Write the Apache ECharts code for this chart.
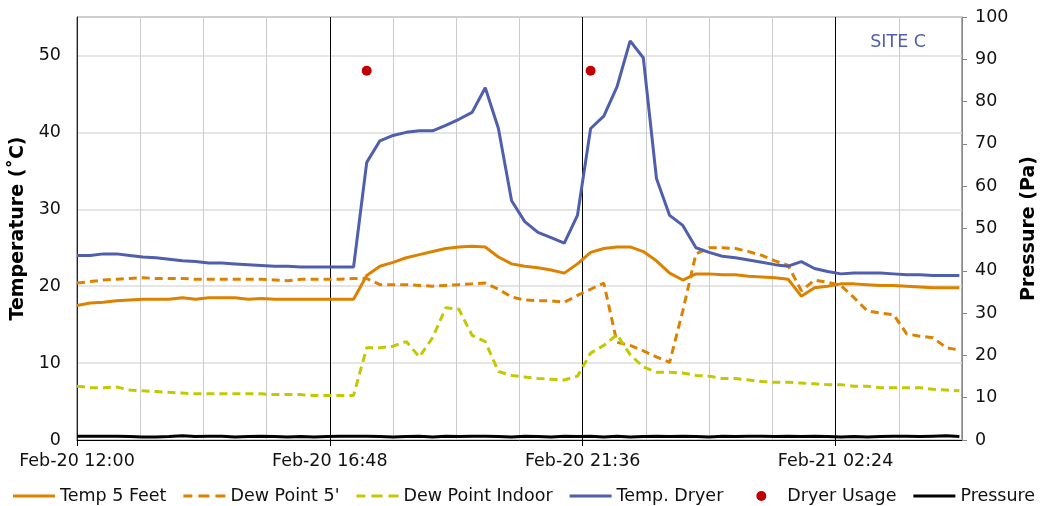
<!DOCTYPE html>
<html>
<head>
<meta charset="utf-8">
<script src="https://cdn.jsdelivr.net/npm/echarts@6/dist/echarts.min.js"></script>
<style>html,body{margin:0;padding:0;background:#fff}#c{width:1047px;height:506px}</style>
</head>
<body>
<div id="c"></div>
<script>
// minutes after Feb-20 12:00
const minutes = [0,15,30,45,60,75,90,105,120,135,150,165,180,195,210,225,240,255,270,285,300,315,330,345,360,375,390,405,420,435,450,465,480,495,510,525,540,555,570,585,600,615,630,645,660,675,690,705,720,735,750,765,780,795,810,825,840,855,870,885,900,915,930,945,960,975,990,1005];
const tickLabels = ['Feb-20 12:00','Feb-20 16:48','Feb-20 21:36','Feb-21 02:24'];
const tickMinutes = [0,288,576,864];
const temp5Feet = [17.5,17.8,17.9,18.1,18.2,18.3,18.3,18.3,18.5,18.3,18.5,18.5,18.5,18.3,18.4,18.3,18.3,18.3,18.3,18.3,18.3,18.3,21.4,22.6,23.1,23.7,24.1,24.5,24.9,25.1,25.2,25.1,23.8,22.9,22.6,22.4,22.1,21.7,22.9,24.4,24.9,25.1,25.1,24.5,23.3,21.7,20.8,21.6,21.6,21.5,21.5,21.3,21.2,21.1,20.9,18.7,19.8,20.0,20.3,20.3,20.2,20.1,20.1,20.0,19.9,19.8,19.8,19.8];
const dewPoint5 = [20.4,20.6,20.8,20.9,21.0,21.1,21.0,21.0,21.0,20.9,20.9,20.9,20.9,20.9,20.9,20.8,20.7,20.9,20.9,20.9,20.9,21.0,21.0,20.2,20.2,20.2,20.1,20.0,20.1,20.2,20.3,20.4,19.6,18.6,18.2,18.1,18.1,17.9,18.8,19.6,20.4,12.7,12.3,11.6,10.8,10.1,16.8,24.2,25.0,25.0,24.9,24.5,24.0,23.3,22.7,19.4,20.8,20.5,20.1,18.5,16.8,16.5,16.3,13.8,13.5,13.3,12.0,11.7];
const dewPointIndoor = [7.0,6.8,6.8,6.9,6.5,6.4,6.3,6.2,6.1,6.0,6.0,6.0,6.0,6.0,6.0,5.9,5.9,5.9,5.8,5.8,5.8,5.8,12.0,12.0,12.2,12.8,10.8,13.3,17.2,17.0,13.6,12.8,8.9,8.4,8.2,8.0,7.9,7.8,8.3,11.3,12.3,13.7,11.1,9.5,8.8,8.8,8.7,8.4,8.3,8.0,8.0,7.8,7.6,7.5,7.5,7.4,7.3,7.2,7.2,7.0,7.0,6.8,6.8,6.8,6.8,6.6,6.5,6.4];
const tempDryer = [24.0,24.0,24.2,24.2,24.0,23.8,23.7,23.5,23.3,23.2,23.0,23.0,22.9,22.8,22.7,22.6,22.6,22.5,22.5,22.5,22.5,22.5,36.1,38.9,39.6,40.0,40.2,40.2,40.9,41.7,42.6,45.8,40.5,31.1,28.4,27.0,26.3,25.6,29.2,40.5,42.1,45.9,51.9,49.7,34.0,29.2,27.9,25.0,24.4,23.9,23.7,23.4,23.1,22.8,22.6,23.2,22.3,21.9,21.6,21.7,21.7,21.7,21.6,21.5,21.5,21.4,21.4,21.4];
const dryerUsageMinutes = [330,585];
const dryerUsage = [48.0,48.0];
const pressure = [0.9,0.9,0.9,0.9,0.8,0.7,0.7,0.8,1.0,0.8,0.9,0.9,0.7,0.8,0.9,0.8,0.7,0.8,0.7,0.8,0.9,0.9,0.9,0.8,0.7,0.8,0.9,0.7,0.9,0.8,0.9,0.9,0.8,0.7,0.9,0.8,0.7,0.9,0.8,0.9,0.7,0.9,0.7,0.8,0.9,0.8,0.9,0.8,0.7,0.9,0.8,0.9,0.9,0.8,0.9,0.8,0.9,0.8,0.7,0.8,0.7,0.8,0.9,0.9,0.8,0.9,1.0,0.8];

const FONT = 'DejaVu Sans';
const ORANGE = '#DC8200', BLUE = '#4F5FAD', YELLOW = '#C3C800', RED = '#C00000';
const pair = (xs, ys) => xs.map((x, i) => [x, ys[i]]);

// legend icons (box 42 x 12)
const ICON_SOLID = 'path://M0,0M42,12M0,4.5H42V7.5H0Z';
const ICON_DASH = 'path://M0,0M42,12M0,4.5H9V7.5H0Z M15,4.5H26V7.5H15Z M32,4.5H42V7.5H32Z';
const ICON_DOT = 'path://M0,0M42,12M16,6A5,5,0,1,1,26,6A5,5,0,1,1,16,6Z';

const chart = echarts.init(document.getElementById('c'), null, {renderer: 'canvas'});
chart.setOption({
  animation: false,
  textStyle: {fontFamily: FONT},
  grid: {left: 77, right: 85, top: 17, bottom: 66, show: true, borderColor: '#555', borderWidth: 1},
  title: {text: 'SITE C', right: 116, top: 28, textStyle: {color: BLUE, fontFamily: FONT, fontSize: 17.5, fontWeight: 'normal'}},
  legend: {
    top: 482, left: 8, itemWidth: 42, itemHeight: 12, itemGap: 17,
    textStyle: {fontFamily: FONT, fontSize: 17.5, color: '#111'},
    data: [
      {name: 'Temp 5 Feet', icon: ICON_SOLID},
      {name: "Dew Point 5'", icon: ICON_DASH},
      {name: 'Dew Point Indoor', icon: ICON_DASH},
      {name: 'Temp. Dryer', icon: ICON_SOLID},
      {name: 'Dryer Usage', icon: ICON_DOT},
      {name: 'Pressure', icon: ICON_SOLID}
    ]
  },
  xAxis: [
    {type: 'value', min: 0, max: 1008, interval: 72,
     axisLine: {show: true, onZero: false, lineStyle: {color: '#000', width: 1}},
     axisTick: {show: false}, axisLabel: {show: false},
     splitLine: {show: true, lineStyle: {color: '#cccccc', width: 1}}},
    {type: 'value', min: 0, max: 1008, interval: 288, position: 'bottom',
     axisLine: {show: false, onZero: false},
     axisTick: {show: true, length: 6, customValues: tickMinutes, lineStyle: {color: '#000'}},
     axisLabel: {show: true, margin: 12, fontSize: 17.5, color: '#111', fontFamily: FONT,
       customValues: tickMinutes,
       formatter: v => (v % 288 === 0 && tickLabels[v / 288]) ? tickLabels[v / 288] : ''},
     splitLine: {show: true, lineStyle: {color: '#000', width: 1}}}
  ],
  yAxis: [
    {type: 'value', min: 0, max: 55, interval: 10, position: 'left',
     name: 'Temperature (˚C)', nameLocation: 'middle', nameGap: 46,
     nameTextStyle: {fontFamily: FONT, fontSize: 19, fontWeight: 'bold', color: '#000'},
     axisLine: {show: true, onZero: false, lineStyle: {color: '#222'}},
     axisTick: {show: false},
     axisLabel: {fontSize: 17.5, color: '#111', margin: 16, showMaxLabel: false,
       formatter: v => (v % 10 === 0 ? String(v) : '')},
     splitLine: {show: true, lineStyle: {color: '#dddddd', width: 1.5}}},
    {type: 'value', min: 0, max: 100, interval: 10, position: 'right',
     name: 'Pressure (Pa)', nameLocation: 'middle', nameGap: 58,
     nameTextStyle: {fontFamily: FONT, fontSize: 19, fontWeight: 'bold', color: '#000'},
     axisLine: {show: true, onZero: false, lineStyle: {color: '#888'}},
     axisTick: {show: true, inside: false, length: 5, lineStyle: {color: '#888'}},
     axisLabel: {fontSize: 17.5, color: '#111', margin: 13},
     splitLine: {show: false}}
  ],
  series: [
    {name: 'Temp 5 Feet', type: 'line', xAxisIndex: 0, yAxisIndex: 0, symbol: 'none',
     data: pair(minutes, temp5Feet), lineStyle: {color: ORANGE, width: 3}, itemStyle: {color: ORANGE}},
    {name: "Dew Point 5'", type: 'line', xAxisIndex: 0, yAxisIndex: 0, symbol: 'none',
     data: pair(minutes, dewPoint5), lineStyle: {color: ORANGE, width: 3, type: [8, 5]}, itemStyle: {color: ORANGE}},
    {name: 'Dew Point Indoor', type: 'line', xAxisIndex: 0, yAxisIndex: 0, symbol: 'none',
     data: pair(minutes, dewPointIndoor), lineStyle: {color: YELLOW, width: 3, type: [8, 5]}, itemStyle: {color: YELLOW}},
    {name: 'Temp. Dryer', type: 'line', xAxisIndex: 0, yAxisIndex: 0, symbol: 'none',
     data: pair(minutes, tempDryer), lineStyle: {color: BLUE, width: 3}, itemStyle: {color: BLUE}},
    {name: 'Dryer Usage', type: 'scatter', xAxisIndex: 0, yAxisIndex: 0, symbol: 'circle', symbolSize: 10,
     data: pair(dryerUsageMinutes, dryerUsage), itemStyle: {color: RED, opacity: 1}},
    {name: 'Pressure', type: 'line', xAxisIndex: 0, yAxisIndex: 1, symbol: 'none',
     data: pair(minutes, pressure), lineStyle: {color: '#000', width: 3}, itemStyle: {color: '#000'}}
  ]
});
</script>
</body>
</html>
